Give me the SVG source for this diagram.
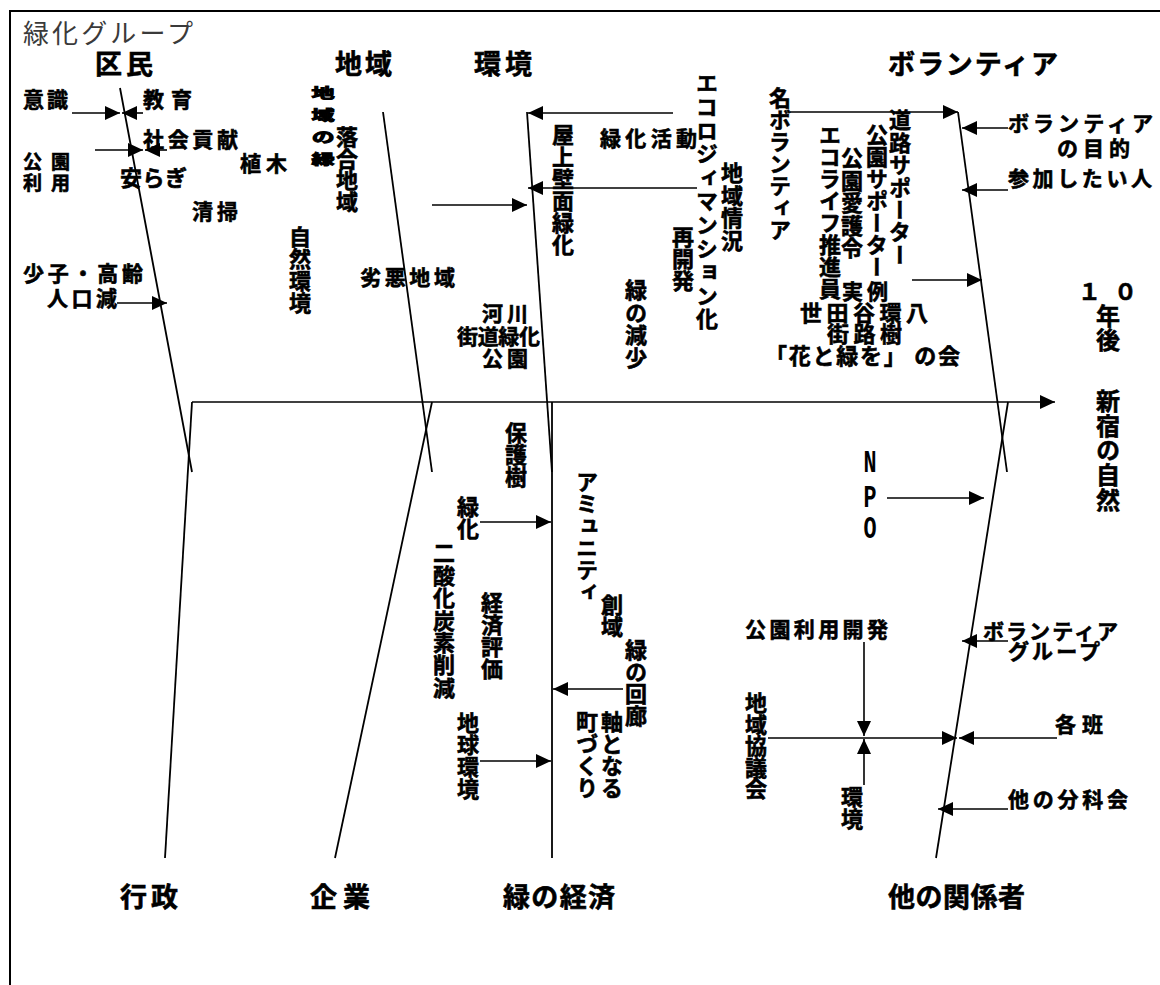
<svg xmlns="http://www.w3.org/2000/svg" width="1160" height="985" viewBox="0 0 1160 985">
<style>
.t{font-family:"Noto Sans CJK JP","Noto Sans CJK SC",sans-serif;font-weight:bold;font-size:21px;fill:#000;stroke:#000;stroke-width:0.6px}
.h{font-size:27px}
.v{writing-mode:vertical-rl;font-size:22px}
.ln{stroke:#000;stroke-width:1.8;fill:none}
.ar{stroke:#000;stroke-width:1.6;fill:none;marker-end:url(#ah)}
</style>
<defs>
<marker id="ah" markerUnits="userSpaceOnUse" markerWidth="16" markerHeight="14" refX="15" refY="7" orient="auto">
<path d="M0,0 L15,7 L0,14 z" fill="#000"/>
</marker>
</defs>
<rect width="1160" height="985" fill="#fff"/>
<path d="M10,985 L10,11 L1160,11" stroke="#000" stroke-width="2" fill="none"/>
<text x="23" y="43" style="font-family:'Noto Sans CJK JP',sans-serif;font-size:26px;fill:#3a3a3a" textLength="170" lengthAdjust="spacing">緑化グループ</text>

<g id="connectors">
<path class="ln" d="M120,88 L192,472"/>
<path class="ln" d="M192,402 L165,858"/>
<path class="ln" d="M383,112 L432,472"/>
<path class="ln" d="M432,402 L335,858"/>
<path class="ln" d="M527,112 L552,472"/>
<path class="ln" d="M552,402 L552,858"/>
<path class="ln" d="M958,112 L1007,472"/>
<path class="ln" d="M1008,402 L936,858"/>
<path class="ar" d="M192,402 L1055,402"/>
<path class="ar" d="M72,113 L120,113"/>
<path class="ar" d="M143,113 L122,113"/>
<path class="ar" d="M95,150 L143,150"/>
<path class="ar" d="M167,150 L145,150"/>
<path class="ar" d="M117,303 L167,303"/>
<path class="ar" d="M673,113 L528,113"/>
<path class="ar" d="M697,188 L528,188"/>
<path class="ar" d="M432,205 L527,205"/>
<path class="ar" d="M790,112 L958,112"/>
<path class="ar" d="M1008,128 L962,128"/>
<path class="ar" d="M1008,190 L962,190"/>
<path class="ar" d="M912,280 L982,280"/>
<path class="ar" d="M480,522 L551,522"/>
<path class="ar" d="M623,689 L553,689"/>
<path class="ar" d="M480,761 L551,761"/>
<path class="ar" d="M887,498 L984,498"/>
<path class="ar" d="M1008,641 L962,641"/>
<path class="ar" d="M864,642 L864,736"/>
<path class="ar" d="M864,785 L864,739"/>
<path class="ar" d="M768,738 L957,738"/>
<path class="ar" d="M1057,738 L959,738"/>
<path class="ar" d="M1008,809 L938,809"/>
</g>

<g id="h-kumin"><text class="t h" x="95" y="74" textLength="58" lengthAdjust="spacing">区民</text></g>
<g id="h-chiiki"><text class="t h" x="335" y="74" textLength="57" lengthAdjust="spacing">地域</text></g>
<g id="h-kankyo"><text class="t h" x="474" y="74" textLength="58" lengthAdjust="spacing">環境</text></g>
<g id="h-volunteer"><text class="t h" x="888" y="74" textLength="170" lengthAdjust="spacing">ボランティア</text></g>
<g id="h-gyosei"><text class="t h" x="120" y="907" textLength="58" lengthAdjust="spacing">行政</text></g>
<g id="h-kigyo"><text class="t h" x="310" y="907" textLength="60" lengthAdjust="spacing">企業</text></g>
<g id="h-midori-keizai"><text class="t h" x="503" y="907" textLength="112" lengthAdjust="spacing">緑の経済</text></g>
<g id="h-kankeisha"><text class="t h" x="888" y="907" textLength="137" lengthAdjust="spacing">他の関係者</text></g>

<g id="n-ishiki"><text class="t" x="23" y="107" textLength="45" lengthAdjust="spacing">意識</text></g>
<g id="n-kyoiku"><text class="t" x="143" y="107" textLength="49" lengthAdjust="spacing">教育</text></g>
<g id="n-shakai"><text class="t" x="143" y="147" textLength="95" lengthAdjust="spacing">社会貢献</text></g>
<g id="n-ueki"><text class="t" x="240" y="171" textLength="47" lengthAdjust="spacing">植木</text></g>
<g id="n-koen-riyo"><text class="t" x="23" y="169" style="font-size:19px" textLength="47" lengthAdjust="spacing">公園</text><text class="t" x="23" y="190" style="font-size:19px" textLength="47" lengthAdjust="spacing">利用</text></g>
<g id="n-yasuragi"><text class="t" x="120" y="186" style="font-size:22px" textLength="67" lengthAdjust="spacing">安らぎ</text></g>
<g id="n-seiso"><text class="t" x="192" y="219" textLength="46" lengthAdjust="spacing">清掃</text></g>
<g id="n-shoshi"><text class="t" x="23" y="281" textLength="120" lengthAdjust="spacing">少子・高齢</text><text class="t" x="47" y="306" textLength="70" lengthAdjust="spacing">人口減</text></g>

<g id="n-chiiki-midori"><text class="t v" x="0" y="86" style="font-size:14px;stroke-width:1px" letter-spacing="8" transform="translate(323,0) scale(1.65,1)">地域の緑</text></g>
<g id="n-ochiai"><text class="t v" x="347" y="126" letter-spacing="-0.5">落合地域</text></g>
<g id="n-shizen"><text class="t v" x="300" y="226">自然環境</text></g>
<g id="n-retsuaku"><text class="t" x="360" y="285" textLength="95" lengthAdjust="spacing">劣悪地域</text></g>
<g id="n-kasen"><text class="t" x="482" y="321" textLength="46" lengthAdjust="spacing">河川</text><text class="t" x="457" y="344" textLength="83" lengthAdjust="spacing">街道緑化</text><text class="t" x="482" y="366" textLength="46" lengthAdjust="spacing">公園</text></g>

<g id="n-okujo"><text class="t v" x="563" y="124">屋上壁面緑化</text></g>
<g id="n-ryokuka-katsudo"><text class="t" x="600" y="146" textLength="97" lengthAdjust="spacing">緑化活動</text></g>
<g id="n-ecology"><text class="t v" x="707" y="72" letter-spacing="1.6">エコロジィマンション化</text></g>
<g id="n-chiiki-jokyo"><text class="t v" x="732" y="162" letter-spacing="0.5">地域情況</text></g>
<g id="n-saikaihatsu"><text class="t v" x="683" y="226">再開発</text></g>
<g id="n-midori-gensho"><text class="t v" x="636" y="279" letter-spacing="0.5">緑の減少</text></g>

<g id="n-mei-volunteer"><text class="t v" x="780" y="87">名ボランティア</text></g>
<g id="n-ecolife"><text class="t v" x="830" y="124">エコライフ推進員</text><text class="t" x="842" y="299" textLength="46" lengthAdjust="spacing">実例</text></g>
<g id="n-koen-aigo"><text class="t v" x="852" y="147" letter-spacing="0.4">公園愛護令</text></g>
<g id="n-koen-supporter"><text class="t v" x="877" y="124">公園サポーター</text></g>
<g id="n-doro-supporter"><text class="t v" x="900" y="109" letter-spacing="0.4">道路サポーター</text></g>
<g id="n-setagaya"><text class="t" x="800" y="321" style="font-size:22px" textLength="128" lengthAdjust="spacing">世田谷環八</text><text class="t" x="827" y="342" style="font-size:22px" textLength="75" lengthAdjust="spacing">街路樹</text></g>
<g id="n-hana-midori"><text class="t" x="765" y="364" style="font-size:22px" textLength="195" lengthAdjust="spacing">「花と緑を」 の会</text></g>
<g id="n-volunteer-mokuteki"><text class="t" x="1008" y="131" textLength="145" lengthAdjust="spacing">ボランティア</text><text class="t" x="1057" y="156" textLength="73" lengthAdjust="spacing">の目的</text></g>
<g id="n-sanka"><text class="t" x="1008" y="186" textLength="144" lengthAdjust="spacing">参加したい人</text></g>

<g id="n-goal"><text class="t" x="1078" y="300" style="font-size:23px" textLength="59" lengthAdjust="spacing">１　０</text><text class="t v" x="1108" y="304" style="font-size:24px">年後</text><text class="t v" x="1108" y="389" style="font-size:24px" letter-spacing="0.6">新宿の自然</text></g>

<g id="n-hogoju"><text class="t v" x="516" y="422">保護樹</text></g>
<g id="n-ryokuka"><text class="t v" x="468" y="496">緑化</text></g>
<g id="n-co2"><text class="t v" x="444" y="542" letter-spacing="0.4">二酸化炭素削減</text></g>
<g id="n-keizai-hyoka"><text class="t v" x="492" y="592">経済評価</text></g>
<g id="n-chikyu"><text class="t v" x="468" y="712">地球環境</text></g>
<g id="n-amenity"><text class="t v" x="587" y="471">アミュニティ</text></g>
<g id="n-soiki"><text class="t v" x="612" y="594">創域</text></g>
<g id="n-kairo"><text class="t v" x="636" y="639">緑の回廊</text></g>
<g id="n-jiku"><text class="t v" x="612" y="711">軸となる</text></g>
<g id="n-machi"><text class="t v" x="587" y="711">町づくり</text></g>

<g id="n-npo" style="font-family:'Liberation Mono',monospace;font-size:32px;font-weight:bold;fill:#000">
<g transform="translate(870,0) scale(0.68,1)"><text x="0" y="472" text-anchor="middle">N</text><text x="0" y="507" text-anchor="middle">P</text><text x="0" y="538" text-anchor="middle">O</text></g>
</g>
<g id="n-koen-kaihatsu"><text class="t" x="745" y="637" textLength="143" lengthAdjust="spacing">公園利用開発</text></g>
<g id="n-kyogikai"><text class="t v" x="756" y="692" letter-spacing="-0.6">地域協議会</text></g>
<g id="n-kankyo2"><text class="t v" x="852" y="786">環境</text></g>
<g id="n-volunteer-group"><text class="t" x="983" y="639" textLength="135" lengthAdjust="spacing">ボランティア</text><text class="t" x="1008" y="659" textLength="92" lengthAdjust="spacing">グループ</text></g>
<g id="n-kakuhan"><text class="t" x="1055" y="732" textLength="48" lengthAdjust="spacing">各班</text></g>
<g id="n-bunkakai"><text class="t" x="1008" y="807" textLength="120" lengthAdjust="spacing">他の分科会</text></g>
</svg>
